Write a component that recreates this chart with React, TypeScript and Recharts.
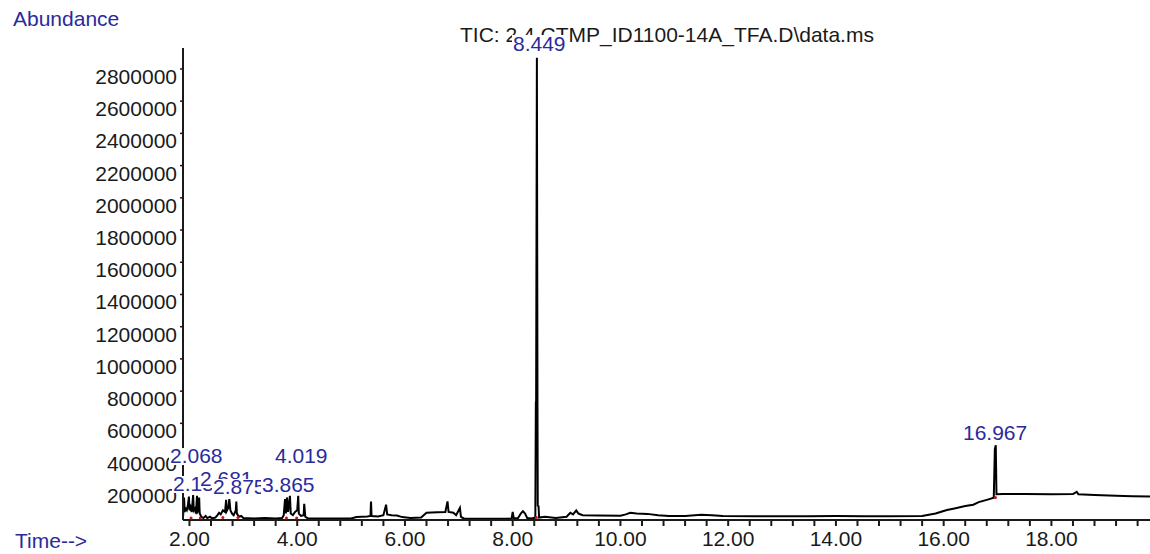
import { LineChart, Line, XAxis, YAxis, ReferenceDot } from 'recharts'

// retention time (min) / abundance
const times = [
  1.88, 1.89, 1.90, 1.91, 1.93, 1.95, 1.97, 1.99, 2.00, 2.02, 2.04, 2.06, 2.068, 2.08, 2.10, 2.12,
  2.14, 2.15, 2.17, 2.18, 2.19, 2.22, 2.26, 2.30, 2.33, 2.38, 2.42, 2.48, 2.52, 2.55, 2.58, 2.62,
  2.66, 2.681, 2.69, 2.72, 2.74, 2.76, 2.79, 2.82, 2.86, 2.87, 2.88, 2.92, 2.96, 3.00, 3.20, 3.40,
  3.60, 3.72, 3.75, 3.774, 3.79, 3.81, 3.83, 3.865, 3.88, 3.92, 3.96, 4.00, 4.019, 4.03, 4.07, 4.12,
  4.13, 4.15, 4.20, 4.60, 5.00, 5.10, 5.30, 5.36, 5.37, 5.38, 5.50, 5.60, 5.65, 5.67, 5.75, 5.85,
  5.95, 6.10, 6.30, 6.40, 6.60, 6.75, 6.79, 6.81, 6.90, 6.95, 7.02, 7.04, 7.10, 7.50, 7.90, 7.98,
  8.00, 8.02, 8.10, 8.15, 8.19, 8.23, 8.27, 8.35, 8.42, 8.43, 8.435, 8.449, 8.46, 8.465, 8.48, 8.49,
  8.60, 8.80, 9.00, 9.07, 9.12, 9.18, 9.22, 9.30, 9.60, 10.00, 10.10, 10.18, 10.30, 10.50, 10.70, 10.90,
  11.20, 11.50, 11.70, 11.90, 12.50, 13.00, 13.50, 14.00, 14.50, 15.00, 15.60, 15.70, 15.85, 16.06, 16.20, 16.40,
  16.55, 16.65, 16.80, 16.93, 16.95, 16.967, 16.98, 17.10, 17.50, 18.00, 18.40, 18.47, 18.50, 18.80, 19.20, 19.50,
  19.83,
]
const abundance = [
  20000, 60000, 140000, 50000, 70000, 60000, 90000, 145000, 60000, 80000, 50000, 120000, 155000, 60000, 70000, 40000,
  150000, 50000, 60000, 140000, 40000, 20000, 12000, 25000, 12000, 20000, 10000, 15000, 30000, 45000, 35000, 60000,
  50000, 125000, 55000, 75000, 130000, 60000, 40000, 30000, 60000, 115000, 40000, 20000, 25000, 12000, 10000, 12000,
  10000, 12000, 30000, 130000, 40000, 140000, 50000, 150000, 40000, 30000, 50000, 60000, 150000, 40000, 25000, 30000,
  100000, 20000, 10000, 10000, 10000, 18000, 22000, 25000, 115000, 25000, 22000, 30000, 95000, 35000, 30000, 28000,
  18000, 12000, 15000, 45000, 48000, 50000, 115000, 50000, 45000, 30000, 75000, 20000, 8000, 8000, 8000, 10000,
  50000, 10000, 12000, 40000, 55000, 40000, 12000, 10000, 15000, 730000, 740000, 2870000, 730000, 90000, 85000, 15000,
  20000, 12000, 20000, 45000, 35000, 60000, 40000, 30000, 28000, 26000, 35000, 45000, 40000, 38000, 30000, 25000,
  25000, 32000, 30000, 25000, 24000, 24000, 23000, 25000, 24000, 24000, 25000, 31000, 40000, 62000, 72000, 87000,
  95000, 111000, 125000, 138000, 440000, 464000, 160000, 161000, 161000, 160000, 161000, 175000, 160000, 155000, 150000, 148000,
  146000,
]

const yTicks = [200000, 400000, 600000, 800000, 1000000, 1200000, 1400000, 1600000, 1800000, 2000000, 2200000, 2400000, 2600000, 2800000]
const xTicks = [
  2.0, 2.4, 2.8, 3.2, 3.6, 4.0, 4.4, 4.8, 5.2, 5.6, 6.0, 6.4, 6.8, 7.2, 7.6, 8.0, 8.4, 8.8, 9.2, 9.6,
  10.0, 10.4, 10.8, 11.2, 11.6, 12.0, 12.4, 12.8, 13.2, 13.6, 14.0, 14.4, 14.8, 15.2, 15.6, 16.0, 16.4,
  16.8, 17.2, 17.6, 18.0, 18.4, 18.8, 19.2, 19.6,
]

// integration marks (red)
const markTimes = [2.03, 2.2, 2.62, 2.9, 3.8, 3.99, 8.44, 16.96]
const markValues = [12000, 12000, 15000, 15000, 12000, 12000, 15000, 140000]

// peak labels, in draw order (later ones cover earlier, as in the original)
const peakLabels = [
  { text: '2.152', x: 173, y: 491 },
  { text: '2.681', x: 200, y: 486 },
  { text: '2.875', x: 213, y: 494 },
  { text: '3.865', x: 262, y: 492 },
  { text: '2.068', x: 170, y: 463 },
  { text: '4.019', x: 275, y: 463 },
  { text: '16.967', x: 963, y: 440 },
]

const data = times.map((t, i) => ({ t, v: abundance[i] }))
const FONT = '"Liberation Sans", Arial, sans-serif'
const BLUE = '#2a2a9c'

const YTick = (props: any) => {
  const { x, y, payload } = props
  return (
    <text x={x - 1} y={y} dy={15} textAnchor="end" fontSize={21} fontFamily={FONT} fill="#1a1a1a">
      {payload.value}
    </text>
  )
}

const XTick = (props: any) => {
  const { x, y, payload } = props
  const v = payload.value
  const r = Math.round(v)
  if (Math.abs(v - r) > 1e-6 || r % 2 !== 0) return <g />
  return (
    <text x={x} y={y} dy={18} textAnchor="middle" fontSize={21} fontFamily={FONT} fill="#1a1a1a">
      {r.toFixed(2)}
    </text>
  )
}

export default function App() {
  return (
    <div style={{ position: 'relative', width: 1150, height: 554, background: '#fff' }}>
      <style>{'body{margin:0}'}</style>
      <LineChart width={1150} height={554} data={data} margin={{ top: 48, right: 0, bottom: 0, left: 0 }}>
        <XAxis
          dataKey="t" type="number" domain={[1.88, 19.83]} ticks={xTicks} allowDataOverflow
          axisLine={{ stroke: '#1a1a1a', strokeWidth: 2 }}
          tickLine={{ stroke: '#1a1a1a', strokeWidth: 2 }} tickSize={6} height={34}
          tick={<XTick />} interval={0}
        />
        <YAxis
          type="number" domain={[0, 2930000]} ticks={yTicks} allowDataOverflow width={183}
          axisLine={{ stroke: '#1a1a1a', strokeWidth: 2 }}
          tickLine={{ stroke: '#1a1a1a', strokeWidth: 1.5 }} tickSize={3}
          tick={<YTick />} interval={0}
        />
        <Line
          type="linear" dataKey="v" stroke="#000" strokeWidth={2}
          dot={false} activeDot={false} isAnimationActive={false}
        />
        {markTimes.map((t, i) => (
          <ReferenceDot key={i} x={t} y={markValues[i]} r={1.5} fill="#d01010" stroke="none" />
        ))}
      </LineChart>
      <svg width={1150} height={554} style={{ position: 'absolute', left: 0, top: 0, pointerEvents: 'none' }}>
        <text x={13} y={26} fontSize={21} fontFamily={FONT} fill={BLUE}>Abundance</text>
        <text x={15} y={548} fontSize={21} fontFamily={FONT} fill={BLUE}>Time--&gt;</text>
        <text x={460} y={42} fontSize={21} fontFamily={FONT} fill="#1a1a1a">
          TIC: 2.4 CTMP_ID1100-14A_TFA.D\data.ms
        </text>
        <rect x={512} y={35} width={57} height={21} fill="#fff" />
        <text x={513} y={51} fontSize={21} fontFamily={FONT} fill={BLUE}>8.449</text>
        {peakLabels.map((p, i) => (
          <g key={i}>
            <rect x={p.x - 1} y={p.y - 15} width={p.text.length * 11.7 - 4} height={17} fill="#fff" />
            <text x={p.x} y={p.y} fontSize={21} fontFamily={FONT} fill={BLUE}>{p.text}</text>
          </g>
        ))}
      </svg>
    </div>
  )
}
